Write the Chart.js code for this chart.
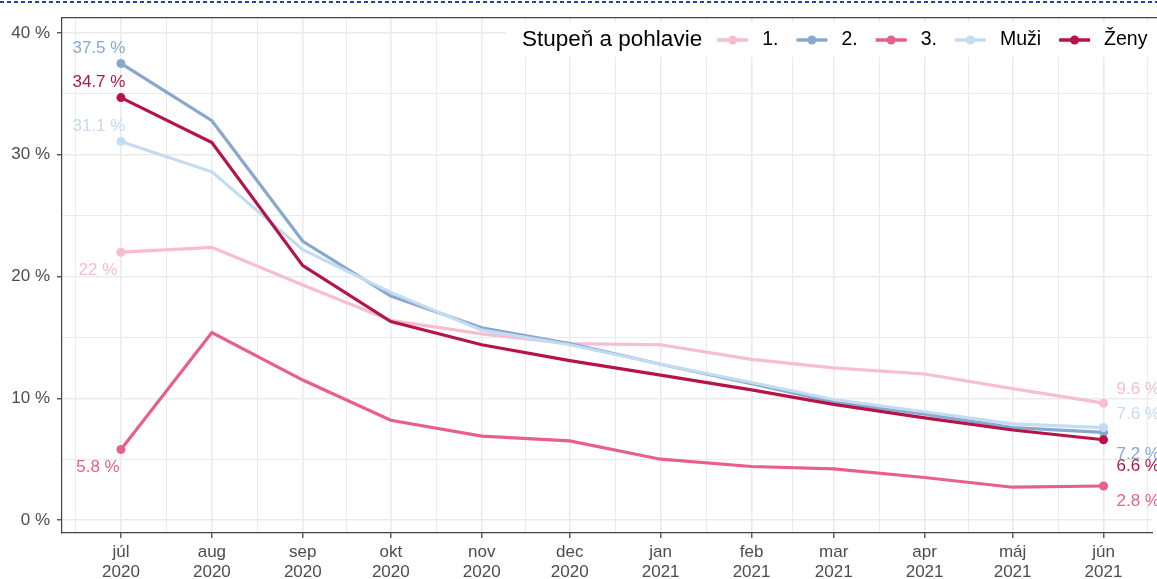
<!DOCTYPE html>
<html lang="sk">
<head>
<meta charset="utf-8">
<title>Stupeň a pohlavie</title>
<script src="https://cdn.jsdelivr.net/npm/chart.js@4.4.1/dist/chart.umd.min.js"></script>
<style>
  html, body { margin: 0; padding: 0; background: #fff; overflow: hidden; }
  #wrap { position: relative; width: 1157px; height: 579px; }
</style>
</head>
<body>
<div id="wrap"><canvas id="chart" width="1157" height="579"></canvas></div>
<script>
// data
const categories = ['júl 2020', 'aug 2020', 'sep 2020', 'okt 2020', 'nov 2020', 'dec 2020',
                    'jan 2021', 'feb 2021', 'mar 2021', 'apr 2021', 'máj 2021', 'jún 2021'];
const monthDates = ['2020-07-01', '2020-08-01', '2020-09-01', '2020-10-01', '2020-11-01', '2020-12-01',
                    '2021-01-01', '2021-02-01', '2021-03-01', '2021-04-01', '2021-05-01', '2021-06-01'];
const tickMonths = ['júl', 'aug', 'sep', 'okt', 'nov', 'dec', 'jan', 'feb', 'mar', 'apr', 'máj', 'jún'];
const tickYears = ['2020', '2020', '2020', '2020', '2020', '2020', '2021', '2021', '2021', '2021', '2021', '2021'];

const seriesNames = ['1.', '2.', '3.', 'Muži', 'Ženy'];
const stupen1 = [22, 22.4, 19.3, 16.4, 15.3, 14.5, 14.4, 13.2, 12.5, 12.0, 10.8, 9.6];
const stupen2 = [37.5, 32.8, 22.9, 18.4, 15.8, 14.5, 12.8, 11.2, 9.7, 8.7, 7.6, 7.2];
const stupen3 = [5.8, 15.4, 11.5, 8.2, 6.9, 6.5, 5.0, 4.4, 4.2, 3.5, 2.7, 2.8];
const muzi = [31.1, 28.6, 22.2, 18.7, 15.6, 14.4, 12.8, 11.3, 9.9, 8.9, 7.9, 7.6];
const zeny = [34.7, 31.0, 20.9, 16.3, 14.4, 13.1, 11.9, 10.7, 9.5, 8.4, 7.4, 6.6];
const yTicks = [0, 10, 20, 30, 40];

const colors = ['#f7bdd2', '#88a8ce', '#e8608a', '#c4dcf1', '#b5144b'];
const FONT = '"Liberation Sans", Arial, Helvetica, sans-serif';

// x as days since first month, like a date axis
const t0 = Date.parse(monthDates[0]);
const dayOffsets = monthDates.map(d => (Date.parse(d) - t0) / 86400000);
const minorX = [];
minorX.push(dayOffsets[0] - (dayOffsets[1] - dayOffsets[0]) / 2);
for (let i = 0; i < dayOffsets.length - 1; i++) minorX.push((dayOffsets[i] + dayOffsets[i + 1]) / 2);
minorX.push(dayOffsets[dayOffsets.length - 1] + 15);
const xTickValues = dayOffsets.concat(minorX).sort((a, b) => a - b);

const yMinor = [];
for (let i = 0; i < yTicks.length - 1; i++) yMinor.push((yTicks[i] + yTicks[i + 1]) / 2);
const yTickValues = yTicks.concat(yMinor).sort((a, b) => a - b);

const allSeries = [stupen1, stupen2, stupen3, muzi, zeny];

const datasets = allSeries.map((vals, i) => ({
    label: seriesNames[i],
    data: vals.map((v, k) => ({ x: dayOffsets[k], y: v })),
    borderColor: colors[i],
    backgroundColor: colors[i],
    borderWidth: 3.2,
    pointRadius: ctx => (ctx.dataIndex === 0 || ctx.dataIndex === vals.length - 1) ? 4.5 : 0,
    pointBorderWidth: 0,
    pointBackgroundColor: colors[i],
    tension: 0,
    order: allSeries.length - 1 - i
}));

// where the value labels sit relative to the first / last point
const labelPlace = {
    '1.':   { start: [-23, 18],  end: [13, -14] },
    '2.':   { start: [-22, -15], end: [13, 22] },
    '3.':   { start: [-23, 18],  end: [13, 15] },
    'Muži': { start: [-22, -15], end: [13, -13] },
    'Ženy': { start: [-22, -15], end: [13, 27] }
};

const fmt = v => String(v) + ' %';

const decorations = {
    id: 'decorations',
    afterDatasetsDraw(chart) {
        const ctx = chart.ctx;
        ctx.save();
        ctx.font = '17px ' + FONT;
        ctx.textBaseline = 'middle';
        chart.data.datasets.forEach((ds, i) => {
            const meta = chart.getDatasetMeta(i);
            const first = meta.data[0];
            const last = meta.data[meta.data.length - 1];
            const place = labelPlace[ds.label];
            ctx.fillStyle = colors[i];
            ctx.textAlign = 'center';
            ctx.fillText(fmt(allSeries[i][0]), first.x + place.start[0], first.y + place.start[1]);
            ctx.textAlign = 'left';
            ctx.fillText(fmt(allSeries[i][allSeries[i].length - 1]), last.x + place.end[0], last.y + place.end[1]);
        });
        ctx.restore();
    },
    afterDraw(chart) {
        const ctx = chart.ctx;
        const area = chart.chartArea;
        ctx.save();

        // dotted selection line along the very top
        ctx.strokeStyle = '#1f45a6';
        ctx.lineWidth = 2;
        ctx.setLineDash([4, 3]);
        ctx.beginPath();
        ctx.moveTo(0, 2);
        ctx.lineTo(chart.width, 2);
        ctx.stroke();
        ctx.setLineDash([]);

        // top of panel border
        ctx.strokeStyle = '#444';
        ctx.lineWidth = 1.2;
        ctx.beginPath();
        ctx.moveTo(area.left, area.top + 0.5);
        ctx.lineTo(chart.width, area.top + 0.5);
        ctx.stroke();

        // legend inside the panel
        const cy = 40;
        ctx.fillStyle = '#fff';
        ctx.fillRect(506, 23, chart.width - 506, 34);
        ctx.textBaseline = 'middle';
        ctx.textAlign = 'left';
        ctx.fillStyle = '#000';
        ctx.font = '22.5px ' + FONT;
        let x = 522;
        ctx.fillText('Stupeň a pohlavie', x, cy);
        x += ctx.measureText('Stupeň a pohlavie').width + 15;
        ctx.font = '19.5px ' + FONT;
        seriesNames.forEach((name, i) => {
            ctx.strokeStyle = colors[i];
            ctx.lineWidth = 3.5;
            ctx.beginPath();
            ctx.moveTo(x, cy);
            ctx.lineTo(x + 31, cy);
            ctx.stroke();
            ctx.fillStyle = colors[i];
            ctx.beginPath();
            ctx.arc(x + 15.5, cy, 4.5, 0, Math.PI * 2);
            ctx.fill();
            x += 31 + 14;
            ctx.fillStyle = '#000';
            ctx.fillText(name, x, cy);
            x += ctx.measureText(name).width + 18;
        });
        ctx.restore();
    }
};

const isMajorX = v => dayOffsets.includes(v);
const isMajorY = v => yTicks.includes(v);

new Chart(document.getElementById('chart'), {
    type: 'line',
    data: { datasets: datasets },
    options: {
        responsive: false,
        animation: false,
        devicePixelRatio: 1,
        layout: { padding: { top: 12, left: 0, right: 0, bottom: 0 } },
        plugins: {
            legend: { display: false },
            tooltip: { enabled: false }
        },
        scales: {
            x: {
                type: 'linear',
                min: -20.1,
                max: 351.7,
                afterBuildTicks: scale => { scale.ticks = xTickValues.map(v => ({ value: v })); },
                afterFit: scale => { scale.height = 46; },
                ticks: {
                    autoSkip: false,
                    maxRotation: 0,
                    padding: 5,
                    color: '#4d4d4d',
                    font: { family: FONT, size: 17, lineHeight: 1.15 },
                    callback: value => {
                        const k = dayOffsets.indexOf(value);
                        return k >= 0 ? [tickMonths[k], tickYears[k]] : '';
                    }
                },
                grid: {
                    color: '#ebebeb',
                    lineWidth: ctx => (ctx.tick && isMajorX(ctx.tick.value)) ? 1.6 : 1,
                    drawTicks: true,
                    tickLength: 5,
                    tickWidth: 1.2,
                    tickColor: ctx => (ctx.tick && isMajorX(ctx.tick.value)) ? '#333' : 'rgba(0,0,0,0)'
                },
                border: { display: true, color: '#444', width: 1.2 }
            },
            y: {
                type: 'linear',
                min: -1.06,
                max: 41.3,
                afterBuildTicks: scale => { scale.ticks = yTickValues.map(v => ({ value: v })); },
                afterFit: scale => { scale.width = 62; },
                ticks: {
                    padding: 7,
                    color: '#4d4d4d',
                    font: { family: FONT, size: 17 },
                    callback: value => isMajorY(value) ? value + ' %' : ''
                },
                grid: {
                    color: '#ebebeb',
                    lineWidth: ctx => (ctx.tick && isMajorY(ctx.tick.value)) ? 1.6 : 1,
                    drawTicks: true,
                    tickLength: 5,
                    tickWidth: 1.2,
                    tickColor: ctx => (ctx.tick && isMajorY(ctx.tick.value)) ? '#333' : 'rgba(0,0,0,0)'
                },
                border: { display: true, color: '#444', width: 1.2 }
            }
        }
    },
    plugins: [decorations]
});
</script>
</body>
</html>
